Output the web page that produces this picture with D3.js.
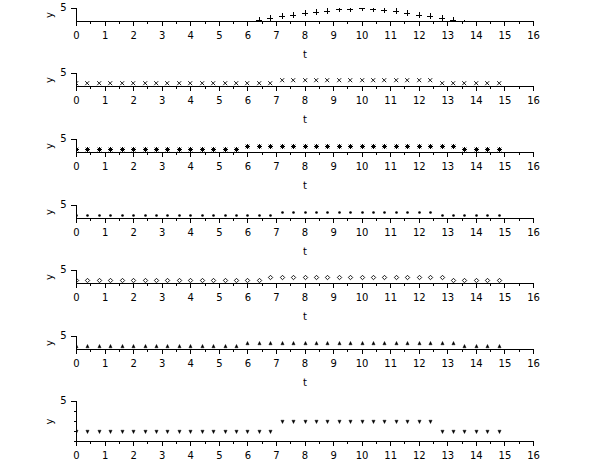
<!DOCTYPE html>
<html>
<head>
<meta charset="utf-8">
<script src="https://cdn.jsdelivr.net/npm/d3@7"></script>
<style>
html,body{margin:0;padding:0;background:#fff;}
svg{display:block;}
text{font-family:"DejaVu Sans",sans-serif;font-size:10px;fill:#000;}
</style>
</head>
<body>
<script>
// ---- data ----
const xTicks = [0,1,2,3,4,5,6,7,8,9,10,11,12,13,14,15,16];
const yTickLabel = ["5"];
const xLabel = "t";
const yLabel = "y";

// panel 1: "+" markers
const tPlus = [6.4,6.8,7.2,7.6,8.0,8.4,8.8,9.2,9.6,10.0,10.4,10.8,11.2,11.6,12.0,12.4,12.8,13.2,13.6];
const yPlus = [0.4,1.3,1.8,2.3,2.9,3.3,3.8,4.5,4.8,4.95,4.8,4.2,3.8,3.0,2.4,1.8,1.0,0.5,-0.8];

// panels 2-7: sampled every 0.4
const tSample = [0,0.4,0.8,1.2,1.6,2,2.4,2.8,3.2,3.6,4,4.4,4.8,5.2,5.6,6,6.4,6.8,7.2,7.6,8,8.4,8.8,9.2,9.6,10,10.4,10.8,11.2,11.6,12,12.4,12.8,13.2,13.6,14,14.4,14.8];
const yCross    = [1.25,1.25,1.25,1.25,1.25,1.25,1.25,1.25,1.25,1.25,1.25,1.25,1.25,1.25,1.25,1.25,1.25,1.25,2.5,2.5,2.5,2.5,2.5,2.5,2.5,2.5,2.5,2.5,2.5,2.5,2.5,2.5,1.25,1.25,1.25,1.25,1.25,1.25];
const yStar     = [1.25,1.25,1.25,1.25,1.25,1.25,1.25,1.25,1.25,1.25,1.25,1.25,1.25,1.25,1.25,2.5,2.5,2.5,2.5,2.5,2.5,2.5,2.5,2.5,2.5,2.5,2.5,2.5,2.5,2.5,2.5,2.5,2.5,2.5,1.25,1.25,1.25,1.25];
const yDot      = [1.25,1.25,1.25,1.25,1.25,1.25,1.25,1.25,1.25,1.25,1.25,1.25,1.25,1.25,1.25,1.25,1.25,1.25,2.5,2.5,2.5,2.5,2.5,2.5,2.5,2.5,2.5,2.5,2.5,2.5,2.5,2.5,1.25,1.25,1.25,1.25,1.25,1.25];
const yDiamond  = [1.25,1.25,1.25,1.25,1.25,1.25,1.25,1.25,1.25,1.25,1.25,1.25,1.25,1.25,1.25,1.25,1.25,2.5,2.5,2.5,2.5,2.5,2.5,2.5,2.5,2.5,2.5,2.5,2.5,2.5,2.5,2.5,2.5,1.25,1.25,1.25,1.25,1.25];
const yTriUp    = [1.25,1.25,1.25,1.25,1.25,1.25,1.25,1.25,1.25,1.25,1.25,1.25,1.25,1.25,1.25,2.5,2.5,2.5,2.5,2.5,2.5,2.5,2.5,2.5,2.5,2.5,2.5,2.5,2.5,2.5,2.5,2.5,2.5,2.5,1.25,1.25,1.25,1.25];
const yTriDown  = [1.25,1.25,1.25,1.25,1.25,1.25,1.25,1.25,1.25,1.25,1.25,1.25,1.25,1.25,1.25,1.25,1.25,1.25,2.5,2.5,2.5,2.5,2.5,2.5,2.5,2.5,2.5,2.5,2.5,2.5,2.5,2.5,1.25,1.25,1.25,1.25,1.25,1.25];

// ---- marker shapes ----
const markerPaths = {
  plus:    {d:"M-3,0.5H3M0.5,-3V3", fill:"none", stroke:"#000", sw:1},
  cross:   {d:"M-1.8,-1.8L2.2,2.2M-1.8,2.2L2.2,-1.8", fill:"none", stroke:"#000", sw:0.9},
  star:    {d:"M-2,0.5H3M0.5,-2V3M-1.3,-1.3L2.3,2.3M-1.3,2.3L2.3,-1.3", fill:"none", stroke:"#000", sw:1},
  dot:     {d:"M-0.8,0.5A1.3,1.3 0 1,0 1.8,0.5A1.3,1.3 0 1,0 -0.8,0.5Z", fill:"#000", stroke:"none", sw:0},
  diamond: {d:"M0.5,-1.7L2.7,0.5L0.5,2.7L-1.7,0.5Z", fill:"none", stroke:"#000", sw:0.9},
  triUp:   {d:"M0.5,-1.6L2.1,1.8L-1.1,1.8Z", fill:"#000", stroke:"#000", sw:0.4},
  triDown: {d:"M0.5,2.6L2.1,-0.8L-1.1,-0.8Z", fill:"#000", stroke:"#000", sw:0.4}
};

const panels = [
  {t:tPlus,   y:yPlus,    m:"plus"},
  {t:tSample, y:yCross,   m:"cross"},
  {t:tSample, y:yStar,    m:"star"},
  {t:tSample, y:yDot,     m:"dot"},
  {t:tSample, y:yDiamond, m:"diamond"},
  {t:tSample, y:yTriUp,   m:"triUp"},
  {t:tSample, y:yTriDown, m:"triDown"}
];

const W = 610, H = 460;
const svg = d3.select("body").append("svg").attr("width", W).attr("height", H);
const defs = svg.append("defs");

const x = d3.scaleLinear().domain([0,16]).range([76.5, 533.5]);

panels.forEach((p, i) => {
  let axisY, topY;
  if (i < 6) { axisY = Math.floor(21.3 + 65.6 * i) + 0.5; topY = axisY - 13; }
  else { axisY = 441.5; topY = 401.5; }
  const y = d3.scaleLinear().domain([0,5]).range([axisY, topY]);
  const g = svg.append("g");

  defs.append("clipPath").attr("id", "clip" + i)
    .append("rect").attr("x", x(0) - 0.5).attr("y", topY - 0.5).attr("width", x(16) - x(0) + 1).attr("height", axisY - topY + 1);

  const axes = g.append("g").attr("shape-rendering", "crispEdges");
  axes.append("line").attr("x1", x(0)).attr("x2", x(16)).attr("y1", axisY).attr("y2", axisY)
    .attr("stroke", "#000").attr("stroke-width", 1);
  axes.selectAll("line.maj").data(xTicks).enter().append("line")
    .attr("x1", d => Math.round(x(d) - 0.5) + 0.5).attr("x2", d => Math.round(x(d) - 0.5) + 0.5)
    .attr("y1", axisY).attr("y2", axisY + 4).attr("stroke", "#000");
  axes.selectAll("line.min").data(xTicks.slice(0, -1).map(d => d + 0.5)).enter().append("line")
    .attr("x1", d => Math.round(x(d) - 0.5) + 0.5).attr("x2", d => Math.round(x(d) - 0.5) + 0.5)
    .attr("y1", axisY).attr("y2", axisY + 2).attr("stroke", "#000");
  axes.append("line").attr("x1", x(0)).attr("x2", x(0)).attr("y1", axisY).attr("y2", y(5))
    .attr("stroke", "#000");
  axes.append("line").attr("x1", x(0) - 5.5).attr("x2", x(0)).attr("y1", y(5)).attr("y2", y(5))
    .attr("stroke", "#000");
  if (i === 6) {
    axes.selectAll("line.ym").data([0,1.25,2.5,3.75]).enter().append("line")
      .attr("x1", x(0) - 3).attr("x2", x(0))
      .attr("y1", d => Math.round(y(d) - 0.5) + 0.5).attr("y2", d => Math.round(y(d) - 0.5) + 0.5)
      .attr("stroke", "#000");
  }

  g.selectAll("text.xl").data(xTicks).enter().append("text")
    .attr("x", d => x(d)).attr("y", axisY + 17.5).attr("text-anchor", "middle").text(d => d);
  g.append("text").attr("x", x(0) - 10).attr("y", y(5) + 2.5).attr("text-anchor", "end").text(yTickLabel[0]);

  const midY = (axisY + topY) / 2;
  g.append("text").attr("transform", `translate(52.5,${midY}) rotate(-90)`).attr("text-anchor", "middle").text(yLabel);
  if (i < 6) {
    g.append("text").attr("x", (x(0) + x(16)) / 2).attr("y", axisY + 36).attr("text-anchor", "middle").text(xLabel);
  }

  const mk = markerPaths[p.m];
  g.append("g").attr("clip-path", `url(#clip${i})`)
    .selectAll("path").data(p.t.map((t, k) => [t, p.y[k]])).enter().append("path")
    .attr("transform", d => `translate(${Math.round(x(d[0]) - 0.5)},${Math.round(y(d[1]) - 0.5)})`)
    .attr("d", mk.d).attr("fill", mk.fill).attr("stroke", mk.stroke).attr("stroke-width", mk.sw);
});
</script>
</body>
</html>
